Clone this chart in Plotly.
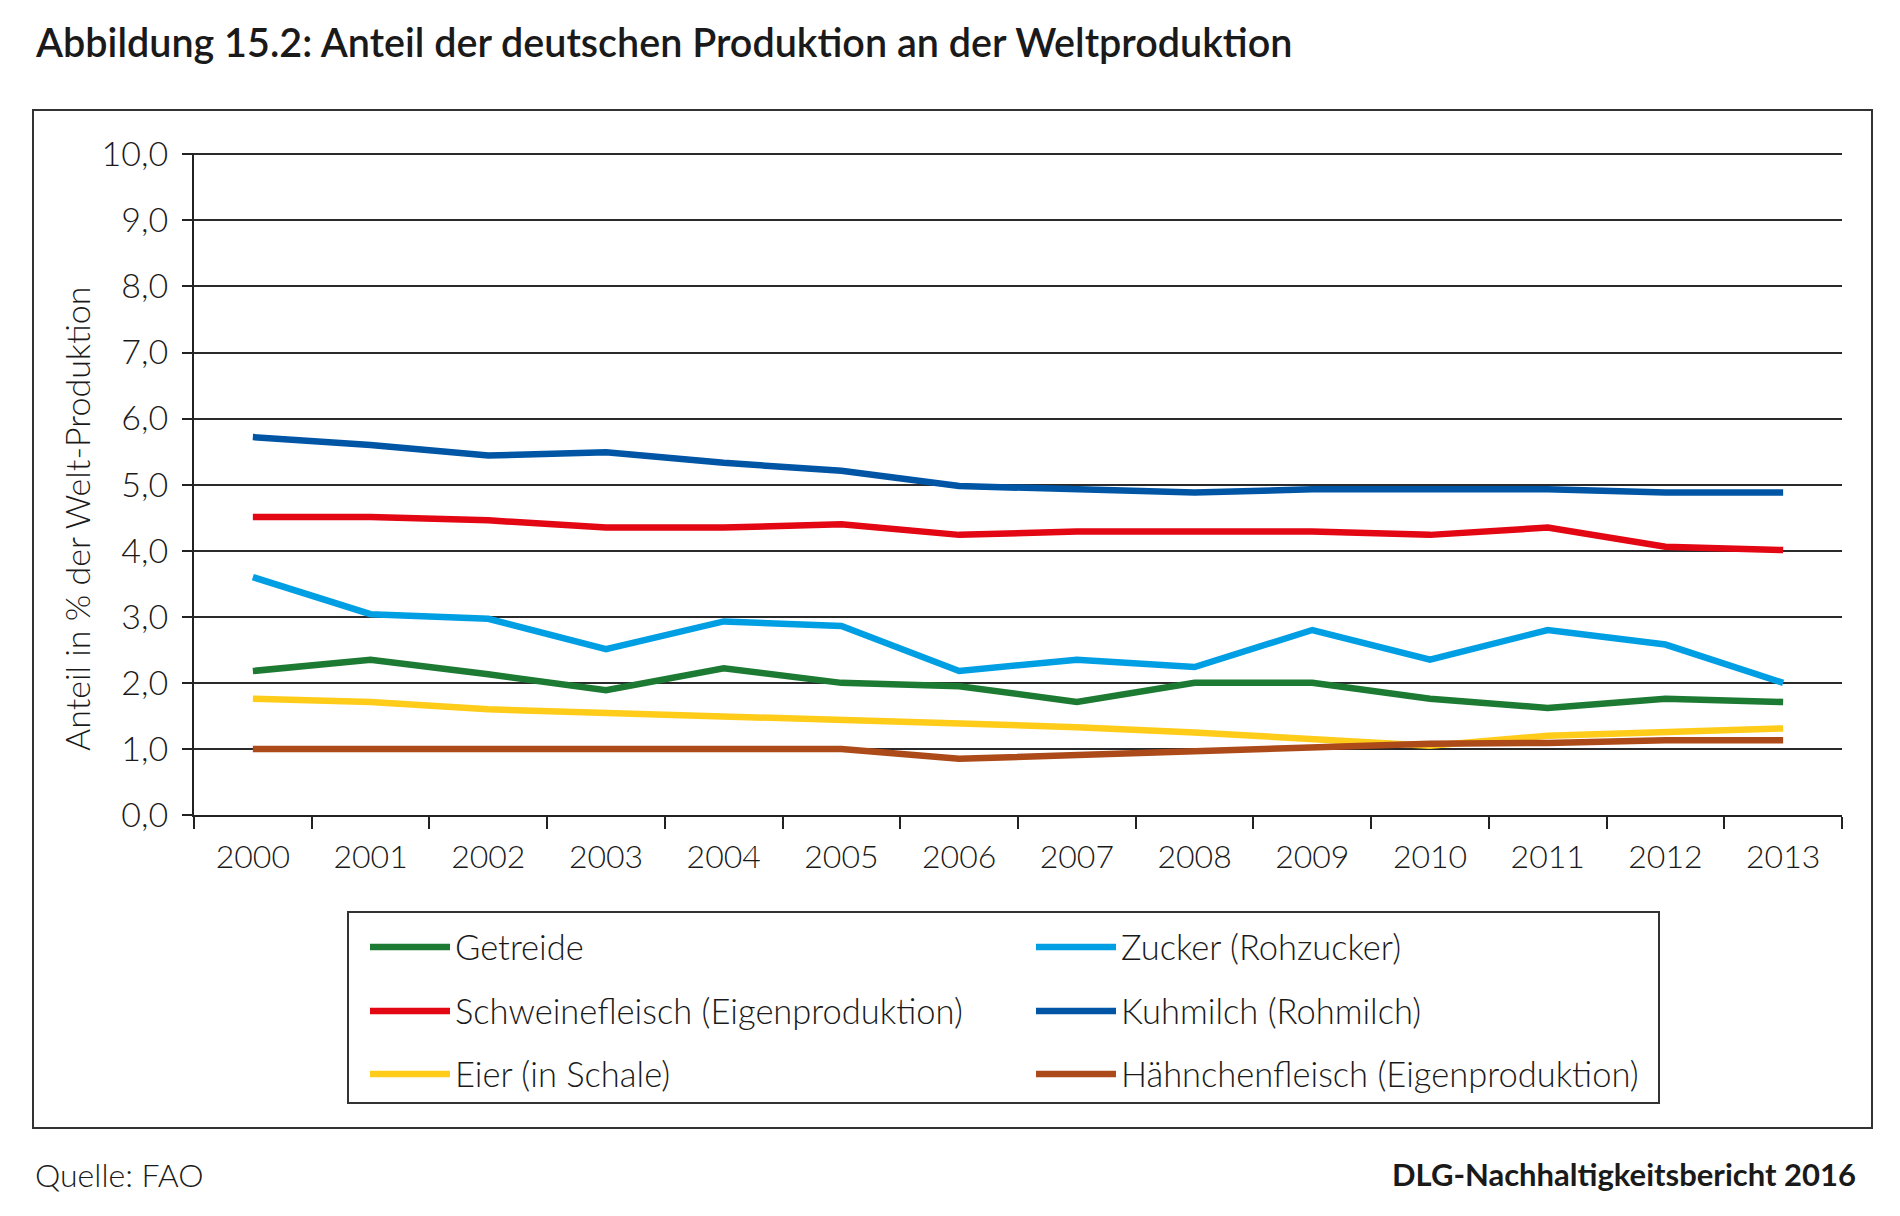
import plotly.graph_objects as go

years = ["2000", "2001", "2002", "2003", "2004", "2005", "2006",
         "2007", "2008", "2009", "2010", "2011", "2012", "2013"]

getreide = [2.18, 2.35, 2.13, 1.89, 2.22, 2.00, 1.95, 1.71, 2.00, 2.00, 1.76, 1.62, 1.76, 1.71]
zucker = [3.60, 3.04, 2.97, 2.51, 2.93, 2.86, 2.18, 2.35, 2.24, 2.80, 2.35, 2.80, 2.58, 2.00]
schwein = [4.51, 4.51, 4.46, 4.35, 4.35, 4.40, 4.24, 4.29, 4.29, 4.29, 4.24, 4.35, 4.06, 4.01]
kuhmilch = [5.72, 5.60, 5.44, 5.49, 5.33, 5.21, 4.98, 4.93, 4.88, 4.93, 4.93, 4.93, 4.88, 4.88]
eier = [1.76, 1.71, 1.60, 1.55, 1.49, 1.44, 1.38, 1.33, 1.25, 1.14, 1.05, 1.20, 1.25, 1.31]
haehnchen = [1.00, 1.00, 1.00, 1.00, 1.00, 1.00, 0.85, 0.91, 0.96, 1.03, 1.08, 1.09, 1.13, 1.13]

series_names = ["Getreide", "Zucker (Rohzucker)", "Schweinefleisch (Eigenproduktion)",
                "Kuhmilch (Rohmilch)", "Eier (in Schale)", "Hähnchenfleisch (Eigenproduktion)"]
series_values = [getreide, zucker, schwein, kuhmilch, eier, haehnchen]
series_colors = ["#1d7a33", "#009fe3", "#e30613", "#0055a5", "#ffcc1a", "#ad4a19"]

y_ticks = [0, 1, 2, 3, 4, 5, 6, 7, 8, 9, 10]

title_text = "Abbildung 15.2: Anteil der deutschen Produktion an der Weltproduktion"
y_title = "Anteil in % der Welt-Produktion"
source_text = "Quelle: FAO"
report_text = "DLG-Nachhaltigkeitsbericht 2016"

# --- layout geometry (pixels) ---
W, H = 1900, 1216
L, R, T, B = 194, 58, 153, 401
PW, PH = W - L - R, H - T - B


def px(x):
    return (x - L) / PW


def py(y):
    return (H - B - y) / PH


FONT = "Lato"
TXT = "#1a1a1a"

fig = go.Figure()

# legend item positions (pixels): column x of symbol start, row y centres
leg_cols = [365, 1031]
leg_rows = [947, 1011, 1074]
legend_layouts = {}
for i, (name, vals, col) in enumerate(zip(series_names, series_values, series_colors)):
    lname = "legend" if i == 0 else f"legend{i + 1}"
    fig.add_trace(go.Scatter(
        x=years, y=vals, mode="lines", name=name,
        line=dict(color=col, width=6.5),
        legend=lname,
    ))
    r, c = divmod(i, 2)
    legend_layouts[lname] = dict(
        x=px(leg_cols[c]), y=py(leg_rows[r]), xanchor="left", yanchor="middle",
        orientation="h", bgcolor="rgba(0,0,0,0)", borderwidth=0,
        itemwidth=80, font=dict(family=FONT, size=34.5, color=TXT, weight=300),
        itemclick=False, itemdoubleclick=False,
    )

fig.update_layout(**legend_layouts)

fig.update_layout(
    width=W, height=H,
    margin=dict(l=L, r=R, t=T, b=B),
    paper_bgcolor="white", plot_bgcolor="white",
    separators=",.",
    showlegend=True,
    font=dict(family=FONT, color=TXT),
    xaxis=dict(
        type="category", categoryorder="array", categoryarray=years,
        range=[-0.5, 13.5], tickson="boundaries",
        ticks="outside", ticklen=12, tickwidth=2, tickcolor="#222",
        showline=True, linecolor="#222", linewidth=2,
        showgrid=False, zeroline=False,
        tickfont=dict(family=FONT, size=32, color=TXT, weight=300),
        ticklabelstandoff=13,
        fixedrange=True,
    ),
    yaxis=dict(
        range=[0, 10.02], tickvals=y_ticks, tickformat=".1f",
        ticks="outside", ticklen=10, tickwidth=2, tickcolor="#222",
        showline=True, linecolor="#222", linewidth=2,
        showgrid=True, gridcolor="#2a2a2a", gridwidth=1.8,
        zeroline=False,
        tickfont=dict(family=FONT, size=34, color=TXT, weight=300),
        ticklabelstandoff=7,
        fixedrange=True,
    ),
)

# outer frame and legend frame
fig.add_shape(type="rect", xref="paper", yref="paper",
              x0=px(33), x1=px(1872), y0=py(1128), y1=py(110),
              line=dict(color="#333", width=2), layer="below")
fig.add_shape(type="rect", xref="paper", yref="paper",
              x0=px(348), x1=px(1659), y0=py(1103), y1=py(912),
              line=dict(color="#333", width=2), layer="below")

annotations = [
    dict(text=title_text, x=px(33), y=py(42), xanchor="left", yanchor="middle",
         font=dict(family=FONT, size=39.5, color=TXT, weight=600)),
    dict(text=y_title, x=px(76), y=py(519), textangle=-90, xanchor="center", yanchor="middle",
         font=dict(family=FONT, size=34, color=TXT, weight=300)),
    dict(text=source_text, x=px(33), y=py(1174), xanchor="left", yanchor="middle",
         font=dict(family=FONT, size=32, color=TXT, weight=300)),
    dict(text=report_text, x=px(1858), y=py(1174), xanchor="right", yanchor="middle",
         font=dict(family=FONT, size=31, color=TXT, weight=700)),
]
for a in annotations:
    fig.add_annotation(xref="paper", yref="paper", showarrow=False, **a)

fig.write_html("out.html")
